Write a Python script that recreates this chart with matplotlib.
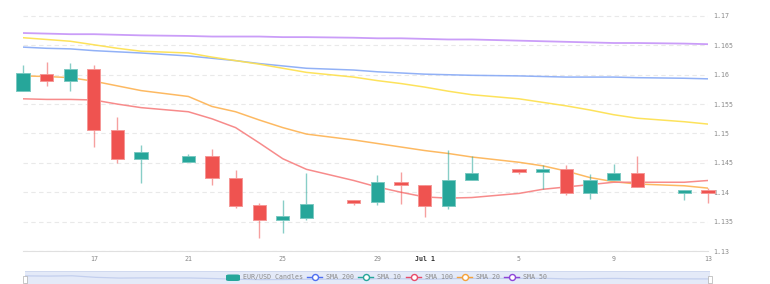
import numpy as np
import pandas as pd
import matplotlib
matplotlib.use("Agg")
import matplotlib.pyplot as plt
import matplotlib.dates as mdates
from matplotlib.lines import Line2D
from matplotlib.patches import Rectangle, FancyBboxPatch
from matplotlib.ticker import FuncFormatter

# candle dates (gaps on the missing days)
dates = ["2025-06-14", "2025-06-15", "2025-06-16", "2025-06-17", "2025-06-18", "2025-06-19",
         "2025-06-21", "2025-06-22", "2025-06-23", "2025-06-24", "2025-06-25", "2025-06-26",
         "2025-06-28", "2025-06-29", "2025-06-30", "2025-07-01", "2025-07-02", "2025-07-03",
         "2025-07-05", "2025-07-06", "2025-07-07", "2025-07-08", "2025-07-09", "2025-07-10",
         "2025-07-12", "2025-07-13"]
opens = [1.1573, 1.1602, 1.1590, 1.1609, 1.1506, 1.1457, 1.1452, 1.1462, 1.1425, 1.1378, 1.1352, 1.1357,
         1.1386, 1.1383, 1.1417, 1.1412, 1.1376, 1.1420, 1.1440, 1.1434, 1.1440, 1.1399, 1.1420, 1.1432,
         1.1398, 1.1403]
highs = [1.1617, 1.1621, 1.1620, 1.1617, 1.1528, 1.1480, 1.1465, 1.1473, 1.1438, 1.1381, 1.1387, 1.1433,
         1.1386, 1.1429, 1.1434, 1.1412, 1.1472, 1.1462, 1.1440, 1.1446, 1.1446, 1.1431, 1.1448, 1.1461,
         1.1403, 1.1407]
lows = [1.1573, 1.1581, 1.1573, 1.1477, 1.1449, 1.1415, 1.1452, 1.1413, 1.1373, 1.1322, 1.1331, 1.1353,
        1.1378, 1.1378, 1.1380, 1.1358, 1.1372, 1.1420, 1.1431, 1.1405, 1.1396, 1.1388, 1.1420, 1.1409,
        1.1387, 1.1382]
closes = [1.1603, 1.1590, 1.1609, 1.1506, 1.1457, 1.1468, 1.1462, 1.1425, 1.1377, 1.1352, 1.1360, 1.1380,
          1.1382, 1.1417, 1.1412, 1.1377, 1.1421, 1.1433, 1.1434, 1.1440, 1.1398, 1.1420, 1.1432, 1.1409,
          1.1403, 1.1399]

# moving average lines as they appear on the chart
sma_purple = [1.1671, 1.1670, 1.1669, 1.1669, 1.1668, 1.1667, 1.1666, 1.1665, 1.1665, 1.1665, 1.1664, 1.1664,
              1.1663, 1.1662, 1.1662, 1.1661, 1.1660, 1.1660, 1.1658, 1.1657, 1.1656, 1.1655, 1.1654, 1.1654,
              1.1653, 1.1652]
sma_blue = [1.1647, 1.1645, 1.1644, 1.1641, 1.1639, 1.1637, 1.1632, 1.1628, 1.1624, 1.1619, 1.1615, 1.1611,
            1.1608, 1.1605, 1.1603, 1.1601, 1.1600, 1.1599, 1.1598, 1.1597, 1.1596, 1.1596, 1.1596, 1.1595,
            1.1594, 1.1593]
sma_yellow = [1.1663, 1.1660, 1.1657, 1.1651, 1.1645, 1.1640, 1.1637, 1.1630, 1.1624, 1.1618, 1.1611, 1.1604,
              1.1596, 1.1590, 1.1585, 1.1579, 1.1572, 1.1566, 1.1559, 1.1553, 1.1547, 1.1540, 1.1532, 1.1526,
              1.1520, 1.1516]
sma_orange = [1.1598, 1.1597, 1.1595, 1.1589, 1.1581, 1.1573, 1.1563, 1.1546, 1.1537, 1.1523, 1.1510, 1.1499,
              1.1489, 1.1483, 1.1477, 1.1471, 1.1466, 1.1460, 1.1451, 1.1445, 1.1436, 1.1425, 1.1418, 1.1414,
              1.1411, 1.1407]
sma_red = [1.1559, 1.1558, 1.1558, 1.1557, 1.1550, 1.1544, 1.1537, 1.1525, 1.1510, 1.1484, 1.1457, 1.1439,
           1.1420, 1.1409, 1.1400, 1.1392, 1.1390, 1.1391, 1.1398, 1.1405, 1.1409, 1.1413, 1.1417, 1.1417,
           1.1417, 1.1420]

tick_dates = ["2025-06-17", "2025-06-21", "2025-06-25", "2025-06-29", "2025-07-01", "2025-07-05",
              "2025-07-09", "2025-07-13"]
tick_labels = ["17", "21", "25", "29", "Jul 1", "5", "9", "13"]
y_ticks = [1.13, 1.135, 1.14, 1.145, 1.15, 1.155, 1.16, 1.165, 1.17]

legend_labels = ["EUR/USD Candles", "SMA 200", "SMA 10", "SMA 100", "SMA 20", "SMA 50"]
legend_colors = ["#26a69a", "#4f6ff0", "#26a69a", "#e84b6a", "#f5a23c", "#8e44d8"]

UP = "#26a69a"
DOWN = "#ef5350"
FONT = "DejaVu Sans Mono"

x = mdates.date2num(pd.to_datetime(dates))
o = np.array(opens); c = np.array(closes)
h = np.array(highs); l = np.array(lows)
up = c >= o
cols = np.where(up, UP, DOWN)

fig = plt.figure(figsize=(7.7, 2.84), dpi=100)
ax = fig.add_axes([23/770, 1-251/284, (708-23)/770, (251-10.1)/284])

# gridlines
for v in y_ticks:
    ax.axhline(v, color="#e9e9e9", lw=0.8, ls=(0, (4, 3)), zorder=0)

# lines
ax.plot(x, sma_purple, color="#c593f8", lw=1.3, alpha=0.9, zorder=2)
ax.plot(x, sma_blue, color="#86a9f6", lw=1.1, alpha=0.9, zorder=2)
ax.plot(x, sma_yellow, color="#fde153", lw=1.1, alpha=0.95, zorder=2)
ax.plot(x, sma_orange, color="#fdb65a", lw=1.1, alpha=0.95, zorder=2)
ax.plot(x, sma_red, color="#f78585", lw=1.1, alpha=0.95, zorder=2)

# candles (not clipped, the end ones hang past the axis)
wk = ax.vlines(x, l, h, colors=cols, lw=1.0, alpha=0.55, zorder=3)
wk.set_clip_on(False)
body_lo = np.minimum(o, c)
body_h = np.maximum(np.abs(c - o), 0.00012)
bars = ax.bar(x, body_h, bottom=body_lo, width=0.56, color=cols, edgecolor=cols, linewidth=0.6, zorder=4)
for b in bars:
    b.set_clip_on(False)
for xi, b, hh in zip(x, body_lo, body_h):
    ax.add_patch(Rectangle((xi-0.28, b), 0.56, hh, fill=False, ec="white", lw=0.5, alpha=0.5, zorder=5,
                           clip_on=False))

ax.set_xlim(x[0], x[-1])
ax.set_ylim(1.13, 1.171)
ax.set_xticks(mdates.date2num(pd.to_datetime(tick_dates)))
ax.set_xticklabels(tick_labels)
ax.set_yticks(y_ticks)
ax.yaxis.set_major_formatter(FuncFormatter(lambda v, p: f"{v:g}"))
ax.yaxis.tick_right()
ax.tick_params(axis="y", length=0, pad=3.6, labelsize=4.8, labelcolor="#8a8a8a")
ax.tick_params(axis="x", length=0, pad=3.4, labelsize=4.8, labelcolor="#8a8a8a")
for lab in ax.get_xticklabels() + ax.get_yticklabels():
    lab.set_fontfamily(FONT)
for lab in ax.get_xticklabels():
    if lab.get_text() == "Jul 1":
        lab.set_fontweight("bold")
        lab.set_color("#333333")
for s in ["left", "right", "top"]:
    ax.spines[s].set_visible(False)
ax.spines["bottom"].set_color("#e0e0e0")
ax.spines["bottom"].set_linewidth(0.8)

# navigator strip
nav = fig.add_axes([25/770, 0, (710-25)/770, 13/284])
nav.set_facecolor("#e4eaf8")
nav.plot(x, closes, color="#c3cfee", lw=0.9)
nav.set_xlim(x[0], x[-1])
nav.set_ylim(1.106, 1.193)
nav.set_xticks([]); nav.set_yticks([])
for s in nav.spines.values():
    s.set_visible(False)
nav.axhline(1.193, color="#cdd6ee", lw=1.2)
for hx in [x[0], x[-1]]:
    nav.add_patch(Rectangle((hx-0.07, 1.110), 0.14, 0.05, fc="white", ec="#b0b0b0", lw=0.5,
                            clip_on=False, zorder=5))

# legend
ly = 1 - 277.3/284
fig.add_artist(FancyBboxPatch((226/770, 1-281/284), 14/770, 6.5/284, boxstyle="round,pad=0,rounding_size=0.004",
                              transform=fig.transFigure, fc=legend_colors[0], ec="none"))
fig.text(243/770, ly, legend_labels[0], fontsize=4.8, family=FONT, color="#8a8a8a", va="center")
icon_x = [307, 358, 406, 457, 504]
for lab, col, ix in zip(legend_labels[1:], legend_colors[1:], icon_x):
    fig.add_artist(Line2D([ix/770, (ix+15)/770], [ly, ly], transform=fig.transFigure, color=col, lw=1.0))
    fig.add_artist(Line2D([(ix+7.5)/770], [ly], transform=fig.transFigure, color=col, marker="o",
                          markersize=4.3, markerfacecolor="white", markeredgewidth=1.0, lw=0))
    fig.text((ix+19)/770, ly, lab, fontsize=4.8, family=FONT, color="#8a8a8a", va="center")

fig.savefig("out.png", dpi=100, facecolor="white")
